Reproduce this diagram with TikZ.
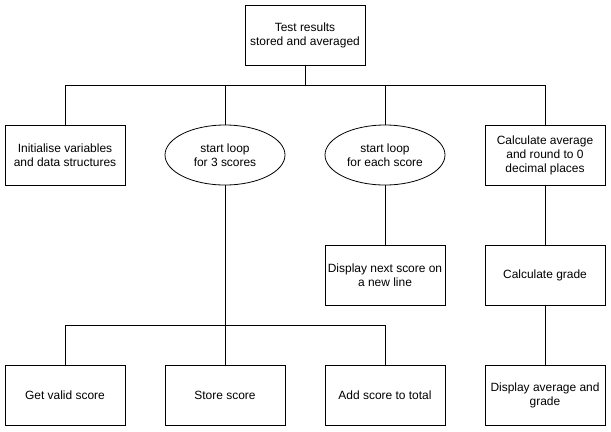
\documentclass[tikz,border=0pt]{standalone}
\usepackage{fontspec}
\setmainfont{Liberation Sans}
\usetikzlibrary{shapes.geometric}
\begin{document}
\begin{tikzpicture}[x=1bp,y=-1bp,
  every node/.style={font=\fontsize{12}{14}\selectfont, align=center, inner sep=0pt},
  boxnode/.style={draw, line width=0.8bp, rectangle, minimum width=120bp, minimum height=60bp},
  ovalnode/.style={draw, line width=0.8bp, ellipse, minimum width=120bp, minimum height=60bp},
  link/.style={draw, line width=0.8bp}]
\useasboundingbox[fill=white] (0,0) rectangle (611,431);
% nodes
\node[boxnode] (top) at (305,35) {Test results\\stored and averaged};
\node[boxnode] (init) at (65,155) {Initialise variables\\and data structures};
\node[ovalnode] (loop3) at (225,155) {start loop\\for 3 scores};
\node[ovalnode] (loopeach) at (385,155) {start loop\\for each score};
\node[boxnode] (calcavg) at (545,155) {Calculate average\\and round to 0\\decimal places};
\node[boxnode] (disp) at (385,275) {Display next score on\\a new line};
\node[boxnode] (grade) at (545,275) {Calculate grade};
\node[boxnode] (getv) at (65,395) {Get valid score};
\node[boxnode] (store) at (225,395) {Store score};
\node[boxnode] (add) at (385,395) {Add score to total};
\node[boxnode] (dispavg) at (545,395) {Display average and\\grade};
% junctions
\coordinate (j1) at (305,85);
\coordinate (j2) at (225,325);
% connectors
\draw[link] (top.south) -- (j1);
\draw[link] (j1) -| (init.north);
\draw[link] (j1) -| (loop3.north);
\draw[link] (j1) -| (loopeach.north);
\draw[link] (j1) -| (calcavg.north);
\draw[link] (loop3.south) -- (j2);
\draw[link] (j2) -| (getv.north);
\draw[link] (j2) -- (store.north);
\draw[link] (j2) -| (add.north);
\draw[link] (loopeach.south) -- (disp.north);
\draw[link] (calcavg.south) -- (grade.north);
\draw[link] (grade.south) -- (dispavg.north);
\end{tikzpicture}
\end{document}
